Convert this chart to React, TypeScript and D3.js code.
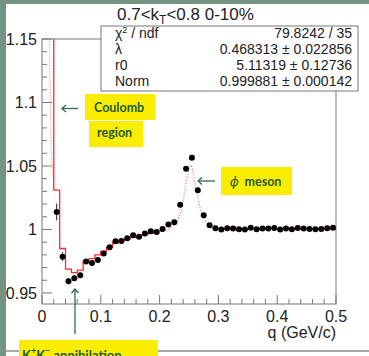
import React, { useEffect, useRef } from 'react';
import * as d3 from 'd3';

const WIDTH = 369;
const HEIGHT = 356;
const BIN = 0.01;

// measured correlation function, bin centres in q (GeV/c)
const qValues = [
  0.025, 0.035, 0.045, 0.055, 0.065, 0.075, 0.085, 0.095, 0.105, 0.115,
  0.125, 0.135, 0.145, 0.155, 0.165, 0.175, 0.185, 0.195, 0.205, 0.215,
  0.225, 0.235, 0.245, 0.255, 0.265, 0.275, 0.285, 0.295, 0.305, 0.315,
  0.325, 0.335, 0.345, 0.355, 0.365, 0.375, 0.385, 0.395, 0.405, 0.415,
  0.425, 0.435, 0.445, 0.455, 0.465, 0.475, 0.485, 0.495,
];
const cfValues = [
  1.0138, 0.9786, 0.9592, 0.9616, 0.964, 0.9748, 0.9735, 0.976, 0.981, 0.986,
  0.9908, 0.991, 0.993, 0.9955, 0.9943, 0.9968, 0.9986, 0.998, 1.0004, 1.004,
  1.0057, 1.0195, 1.0479, 1.0565, 1.0309, 1.0112, 1.0033, 1.0009, 0.9999, 1.0009,
  1.0007, 1.0001, 0.9999, 1.0014, 1.0001, 1.0007, 1.0007, 1.0012, 0.9999, 1.0007,
  1.0001, 1.0012, 1.0007, 1.0004, 1.0001, 1.0004, 1.0009, 1.0014,
];
const cfErrors = [
  0.0066, 0.0034, 0.0025, 0.0022, 0.002, 0.0018, 0.0017, 0.0016, 0.0015, 0.0014,
  0.0013, 0.0013, 0.0012, 0.0012, 0.0011, 0.0011, 0.0011, 0.001, 0.001, 0.001,
  0.001, 0.001, 0.001, 0.001, 0.001, 0.001, 0.001, 0.0009, 0.0009, 0.0009,
  0.0009, 0.0009, 0.0009, 0.0009, 0.0009, 0.0009, 0.0009, 0.0009, 0.0009, 0.0009,
  0.0009, 0.0009, 0.0009, 0.0009, 0.0009, 0.0009, 0.0009, 0.0009,
];

// fit, drawn as a histogram (solid) below and above the phi peak
const fitLowQ = [
  0.015, 0.025, 0.035, 0.045, 0.055, 0.065, 0.075, 0.085, 0.095, 0.105,
  0.115, 0.125, 0.135, 0.145, 0.155, 0.165, 0.175, 0.185, 0.195,
];
const fitLowValues = [
  1.25, 1.031, 0.985, 0.9688, 0.966, 0.968, 0.9755, 0.977, 0.98, 0.983,
  0.986, 0.9895, 0.991, 0.9925, 0.994, 0.995, 0.996, 0.997, 0.998,
];
const fitHighQ = [
  0.305, 0.315, 0.325, 0.335, 0.345, 0.355, 0.365, 0.375, 0.385, 0.395,
  0.405, 0.415, 0.425, 0.435, 0.445, 0.455, 0.465, 0.475, 0.485, 0.495,
];
const fitHighValues = [
  1.0006, 1.0006, 1.0005, 1.0005, 1.0005, 1.0005, 1.0005, 1.0005, 1.0005, 1.0005,
  1.0005, 1.0005, 1.0005, 1.0005, 1.0005, 1.0005, 1.0005, 1.0005, 1.0005, 1.0005,
];

// dotted part of the fit (phi meson peak)
const peakQ = [
  0.195, 0.205, 0.215, 0.225, 0.23, 0.235, 0.24, 0.245, 0.25, 0.2525,
  0.255, 0.26, 0.265, 0.27, 0.275, 0.28, 0.285, 0.29, 0.3,
];
const peakValues = [
  0.998, 0.999, 1.0, 1.003, 1.006, 1.012, 1.022, 1.037, 1.048, 1.051,
  1.049, 1.037, 1.025, 1.015, 1.009, 1.005, 1.003, 1.0015, 1.0006,
];

// dotted fit in the Coulomb region
const coulombQ = [0.0125, 0.014, 0.016, 0.02];
const coulombValues = [1.16, 1.1, 1.06, 1.035];

const xTicks = [0, 0.1, 0.2, 0.3, 0.4, 0.5];
const xTickLabels = ['0', '0.1', '0.2', '0.3', '0.4', '0.5'];
const yTicks = [0.95, 1, 1.05, 1.1, 1.15];
const yTickLabels = ['0.95', '1', '1.05', '1.1', '1.15'];

const statLabels = ['ndf', 'λ', 'r0', 'Norm'];
const statValues = ['79.8242 / 35', '0.468313 ± 0.022856', '5.11319 ± 0.12736', '0.999881 ± 0.000142'];

const FONT = '"Liberation Sans", Arial, sans-serif';
const NOTE_FONT = 'Lato, "Open Sans", sans-serif';
const BG = '#759383';
const RED = '#ff2a2a';
const NOTE = '#1f5b37';
const ARROW = '#2c6c52';
const YELLOW = '#fbed00';

export default function App() {
  const svgRef = useRef<SVGSVGElement>(null);

  useEffect(() => {
    if (!svgRef.current) return;
    const svg = d3.select(svgRef.current);
    svg.selectAll('*').remove();

    const frame = { left: 42, right: 336, top: 39, bottom: 304 };

    const x = d3.scaleLinear().domain([0, 0.5]).range([frame.left, frame.right]);
    const y = d3.scaleLinear().domain([0.9413, 1.15]).range([frame.bottom, frame.top]);

    // page background
    svg.append('rect').attr('width', WIDTH).attr('height', HEIGHT).attr('fill', BG);
    svg.append('rect').attr('x', 6).attr('y', 4).attr('width', WIDTH - 6).attr('height', HEIGHT - 4).attr('fill', '#fff');
    svg.append('line')
      .attr('x1', 0).attr('x2', WIDTH).attr('y1', 351).attr('y2', 351)
      .attr('stroke', '#8a8f8c').attr('stroke-width', 1.5);

    svg.append('clipPath').attr('id', 'frame-clip')
      .append('rect')
      .attr('x', frame.left).attr('y', frame.top)
      .attr('width', frame.right - frame.left).attr('height', frame.bottom - frame.top);

    // frame
    svg.append('rect')
      .attr('x', frame.left).attr('y', frame.top)
      .attr('width', frame.right - frame.left).attr('height', frame.bottom - frame.top)
      .attr('fill', 'none').attr('stroke', '#777').attr('stroke-width', 1);

    // x ticks
    const xMinor = d3.range(0, 0.5001, 0.02);
    svg.append('g').selectAll('line').data(xMinor).enter().append('line')
      .attr('x1', d => x(d)).attr('x2', d => x(d))
      .attr('y1', frame.bottom)
      .attr('y2', d => frame.bottom - (xTicks.some(t => Math.abs(t - d) < 1e-6) ? 9 : 5))
      .attr('stroke', '#777');
    svg.append('g').selectAll('text').data(xTicks).enter().append('text')
      .attr('x', d => x(d)).attr('y', 322)
      .attr('text-anchor', 'middle')
      .style('font-family', FONT).style('font-size', '16px').attr('fill', '#222')
      .text((d, i) => xTickLabels[i]);
    svg.append('text')
      .attr('x', frame.right).attr('y', 338)
      .attr('text-anchor', 'end')
      .style('font-family', FONT).style('font-size', '16px').attr('fill', '#222')
      .text('q (GeV/c)');

    // y ticks
    const yMinor = d3.range(0.95, 1.1501, 0.01);
    svg.append('g').selectAll('line').data(yMinor).enter().append('line')
      .attr('x1', frame.left)
      .attr('x2', d => frame.left + (yTicks.some(t => Math.abs(t - d) < 1e-6) ? 10 : 5))
      .attr('y1', d => y(d)).attr('y2', d => y(d))
      .attr('stroke', '#777');
    svg.append('g').selectAll('text').data(yTicks).enter().append('text')
      .attr('x', 37).attr('y', d => y(d) + 6)
      .attr('text-anchor', 'end')
      .style('font-family', FONT).style('font-size', '16px').attr('fill', '#222')
      .text((d, i) => yTickLabels[i]);

    // fit curves
    const plot = svg.append('g').attr('clip-path', 'url(#frame-clip)');
    const stepLine = d3.line<[number, number]>().x(d => x(d[0])).y(d => y(d[1]));
    const steps = (qs: number[], vs: number[]) =>
      qs.flatMap((q, i) => [[q - BIN / 2, vs[i]], [q + BIN / 2, vs[i]]] as [number, number][]);

    const smooth = d3.line<number>().x((d, i) => x(peakQ[i])).y(d => y(d));
    plot.append('path')
      .attr('d', smooth(peakValues))
      .attr('fill', 'none').attr('stroke', '#f27a7a').attr('stroke-width', 1.2)
      .attr('stroke-dasharray', '1.2,1.8');

    const coulombLine = d3.line<number>().x((d, i) => x(coulombQ[i])).y(d => y(d));
    plot.append('path')
      .attr('d', coulombLine(coulombValues))
      .attr('fill', 'none').attr('stroke', '#f59a9a').attr('stroke-width', 1.2)
      .attr('stroke-dasharray', '1.2,1.8');

    plot.append('path')
      .attr('d', stepLine(steps(fitLowQ, fitLowValues)))
      .attr('fill', 'none').attr('stroke', RED).attr('stroke-width', 1.3);
    plot.append('path')
      .attr('d', stepLine(steps(fitHighQ, fitHighValues)))
      .attr('fill', 'none').attr('stroke', RED).attr('stroke-width', 1.3);

    // data points with error bars
    plot.selectAll('.err').data(qValues).enter().append('line')
      .attr('class', 'err')
      .attr('x1', d => x(d)).attr('x2', d => x(d))
      .attr('y1', (d, i) => y(cfValues[i] - cfErrors[i]))
      .attr('y2', (d, i) => y(cfValues[i] + cfErrors[i]))
      .attr('stroke', '#222').attr('stroke-width', 1);
    plot.selectAll('.dot').data(qValues).enter().append('circle')
      .attr('class', 'dot')
      .attr('cx', d => x(d))
      .attr('cy', (d, i) => y(cfValues[i]))
      .attr('r', 3)
      .attr('fill', '#000');

    // stat box
    const stat = svg.append('g').attr('transform', 'translate(101,26)');
    stat.append('rect')
      .attr('width', 257).attr('height', 65)
      .attr('fill', '#fff').attr('stroke', '#777').attr('stroke-width', 1);
    statLabels.forEach((label, i) => {
      const t = stat.append('text')
        .attr('x', 14).attr('y', 12 + i * 16)
        .style('font-family', FONT).style('font-size', '14px').attr('fill', '#222');
      if (i === 0) {
        t.append('tspan').text('χ');
        t.append('tspan').attr('dy', -5).style('font-size', '9px').text('2');
        t.append('tspan').attr('dy', 5).text(' / ' + label);
      } else {
        t.text(label);
      }
      stat.append('text')
        .attr('x', 251).attr('y', 12 + i * 16)
        .attr('text-anchor', 'end')
        .style('font-family', FONT).style('font-size', '14px').attr('fill', '#222')
        .text(statValues[i]);
    });

    // title
    const title = svg.append('text')
      .attr('x', 117).attr('y', 20)
      .style('font-family', FONT).style('font-size', '17px').attr('fill', '#222');
    title.append('tspan').text('0.7<k');
    title.append('tspan').attr('dy', 4).style('font-size', '12px').text('T');
    title.append('tspan').attr('dy', -4).text('<0.8 0-10%');

    // annotations
    const arrowLeft = (x0: number, x1: number, yy: number) => {
      svg.append('line').attr('x1', x0).attr('x2', x1).attr('y1', yy).attr('y2', yy)
        .attr('stroke', ARROW).attr('stroke-width', 1.3);
      svg.append('polyline')
        .attr('points', `${x0 + 4},${yy - 3.5} ${x0},${yy} ${x0 + 4},${yy + 3.5}`)
        .attr('fill', 'none').attr('stroke', ARROW).attr('stroke-width', 1.3);
    };
    const note = (bx: number, by: number, bw: number, bh: number) =>
      svg.append('rect').attr('x', bx).attr('y', by).attr('width', bw).attr('height', bh).attr('fill', YELLOW);
    const noteText = (tx: number, ty: number) =>
      svg.append('text').attr('x', tx).attr('y', ty)
        .style('font-family', NOTE_FONT).style('font-size', '12.5px').style('font-weight', 'bold')
        .attr('fill', NOTE);

    arrowLeft(62, 78, 108.5);
    note(85, 94, 70, 26);
    noteText(94, 112).text('Coulomb');
    note(89, 121, 54, 26);
    noteText(97, 137).text('region');

    arrowLeft(198, 215, 181);
    note(221, 167, 71, 28);
    const phi = noteText(230, 186);
    phi.append('tspan').style('font-style', 'italic').style('font-weight', 'normal')
      .style('font-family', '"DejaVu Serif", serif').text('ϕ');
    phi.append('tspan').attr('dx', 6).text('meson');

    svg.append('line').attr('x1', 75).attr('x2', 75).attr('y1', 289).attr('y2', 334)
      .attr('stroke', ARROW).attr('stroke-width', 1.3);
    svg.append('polyline')
      .attr('points', '71.5,293 75,289 78.5,293')
      .attr('fill', 'none').attr('stroke', ARROW).attr('stroke-width', 1.3);
    note(19, 340, 139, 20);
    const kk = noteText(22, 360).style('font-size', '13px');
    kk.append('tspan').text('K');
    kk.append('tspan').attr('dy', -6).style('font-size', '9px').text('+');
    kk.append('tspan').attr('dy', 6).text('K');
    kk.append('tspan').attr('dy', -6).style('font-size', '9px').text('−');
    kk.append('tspan').attr('dy', 6).text(' annihilation');
  }, []);

  return (
    <svg
      ref={svgRef}
      width={WIDTH}
      height={HEIGHT}
      style={{ position: 'absolute', left: 0, top: 0, display: 'block' }}
    />
  );
}
